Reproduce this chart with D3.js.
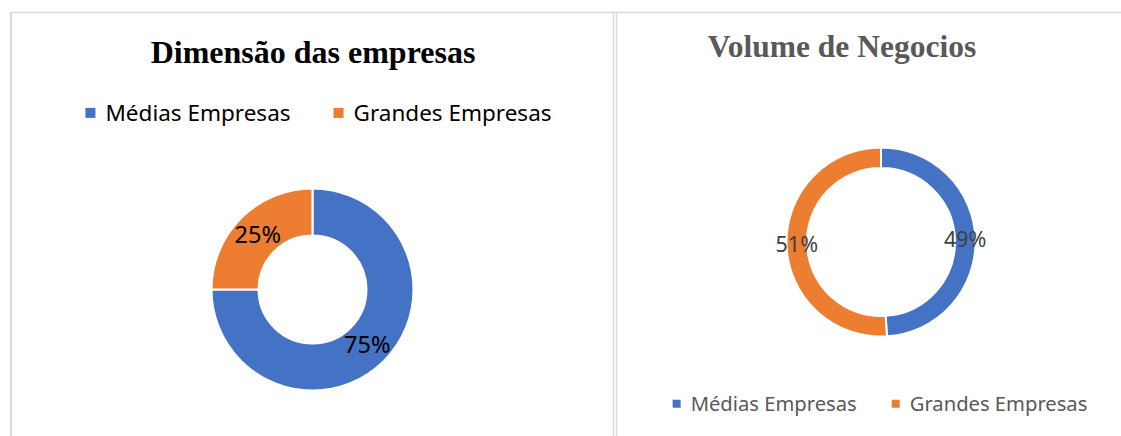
<!DOCTYPE html>
<html>
<head>
<meta charset="utf-8">
<script src="https://cdn.jsdelivr.net/npm/d3@7"></script>
<style>
  html, body { margin: 0; padding: 0; background: #fff; }
  svg { display: block; }
</style>
</head>
<body>
<svg id="chart" width="1121" height="436"></svg>
<script>
const categories = ["Médias Empresas", "Grandes Empresas"];
const dimensaoValues = [75, 25];
const volumeValues = [49, 51];
const seriesColors = ["#4472C4", "#ED7D31"];

const svg = d3.select("#chart");
const border = "#d9d9d9";

// panel frames
svg.append("line").attr("x1", 10).attr("x2", 1121).attr("y1", 12.5).attr("y2", 12.5)
  .attr("stroke", border).attr("stroke-width", 1.5);
[11, 613.5, 616.5].forEach((x) => {
  svg.append("line").attr("x1", x).attr("x2", x).attr("y1", 12).attr("y2", 436)
    .attr("stroke", border).attr("stroke-width", x === 11 ? 2 : 1.5);
});

function drawLegend(cx, baseline, fontSize, sq, textColor, gapText, gapItem) {
  const g = svg.append("g");
  let x = 0;
  categories.forEach((name, i) => {
    g.append("rect")
      .attr("x", x).attr("y", -fontSize * 0.36 - sq / 2)
      .attr("width", sq).attr("height", sq)
      .attr("fill", seriesColors[i]);
    const t = g.append("text")
      .attr("x", x + sq + gapText).attr("y", 0)
      .attr("font-family", "'Noto Sans', sans-serif")
      .attr("font-size", fontSize)
      .attr("fill", textColor)
      .text(name);
    x += sq + gapText + t.node().getComputedTextLength() + gapItem;
  });
  const w = g.node().getBBox().width;
  g.attr("transform", `translate(${cx - w / 2}, ${baseline})`);
}

function drawDonut(values, cx, cy, rOuter, rInner, labelColor, labelSize) {
  const pie = d3.pie().sort(null).value((d) => d);
  const arc = d3.arc().innerRadius(rInner).outerRadius(rOuter);
  const labelArc = d3.arc().innerRadius((rInner + rOuter) / 2).outerRadius((rInner + rOuter) / 2);
  const g = svg.append("g").attr("transform", `translate(${cx}, ${cy})`);
  const arcs = pie(values);
  g.selectAll("path")
    .data(arcs)
    .join("path")
    .attr("d", arc)
    .attr("fill", (d, i) => seriesColors[i])
    .attr("stroke", "#fff")
    .attr("stroke-width", 2)
    .attr("stroke-linejoin", "round");
  g.selectAll("text")
    .data(arcs)
    .join("text")
    .attr("transform", (d) => `translate(${labelArc.centroid(d)})`)
    .attr("text-anchor", "middle")
    .attr("dy", "0.36em")
    .attr("font-family", "'Noto Sans', sans-serif")
    .attr("font-size", labelSize)
    .attr("fill", labelColor)
    .text((d) => `${d.data}%`);
}

// Left chart: Dimensão das empresas
svg.append("text")
  .attr("x", 313).attr("y", 63)
  .attr("text-anchor", "middle")
  .attr("font-family", "'Liberation Serif', 'Times New Roman', serif")
  .attr("font-weight", "bold")
  .attr("font-size", 32)
  .attr("fill", "#000")
  .text("Dimensão das empresas");

drawLegend(318.5, 121, 22.5, 10, "#000", 10, 43);
drawDonut(dimensaoValues, 312.5, 289.5, 101, 54, "#000", 23.5);

// Right chart: Volume de Negocios
svg.append("text")
  .attr("x", 842).attr("y", 57)
  .attr("text-anchor", "middle")
  .attr("font-family", "'Liberation Serif', 'Times New Roman', serif")
  .attr("font-weight", "bold")
  .attr("font-size", 31.5)
  .attr("fill", "#595959")
  .text("Volume de Negocios");

drawDonut(volumeValues, 881, 242, 94.5, 74, "#404040", 21.5);
drawLegend(880, 411, 20.2, 8, "#595959", 10, 35);
</script>
</body>
</html>
